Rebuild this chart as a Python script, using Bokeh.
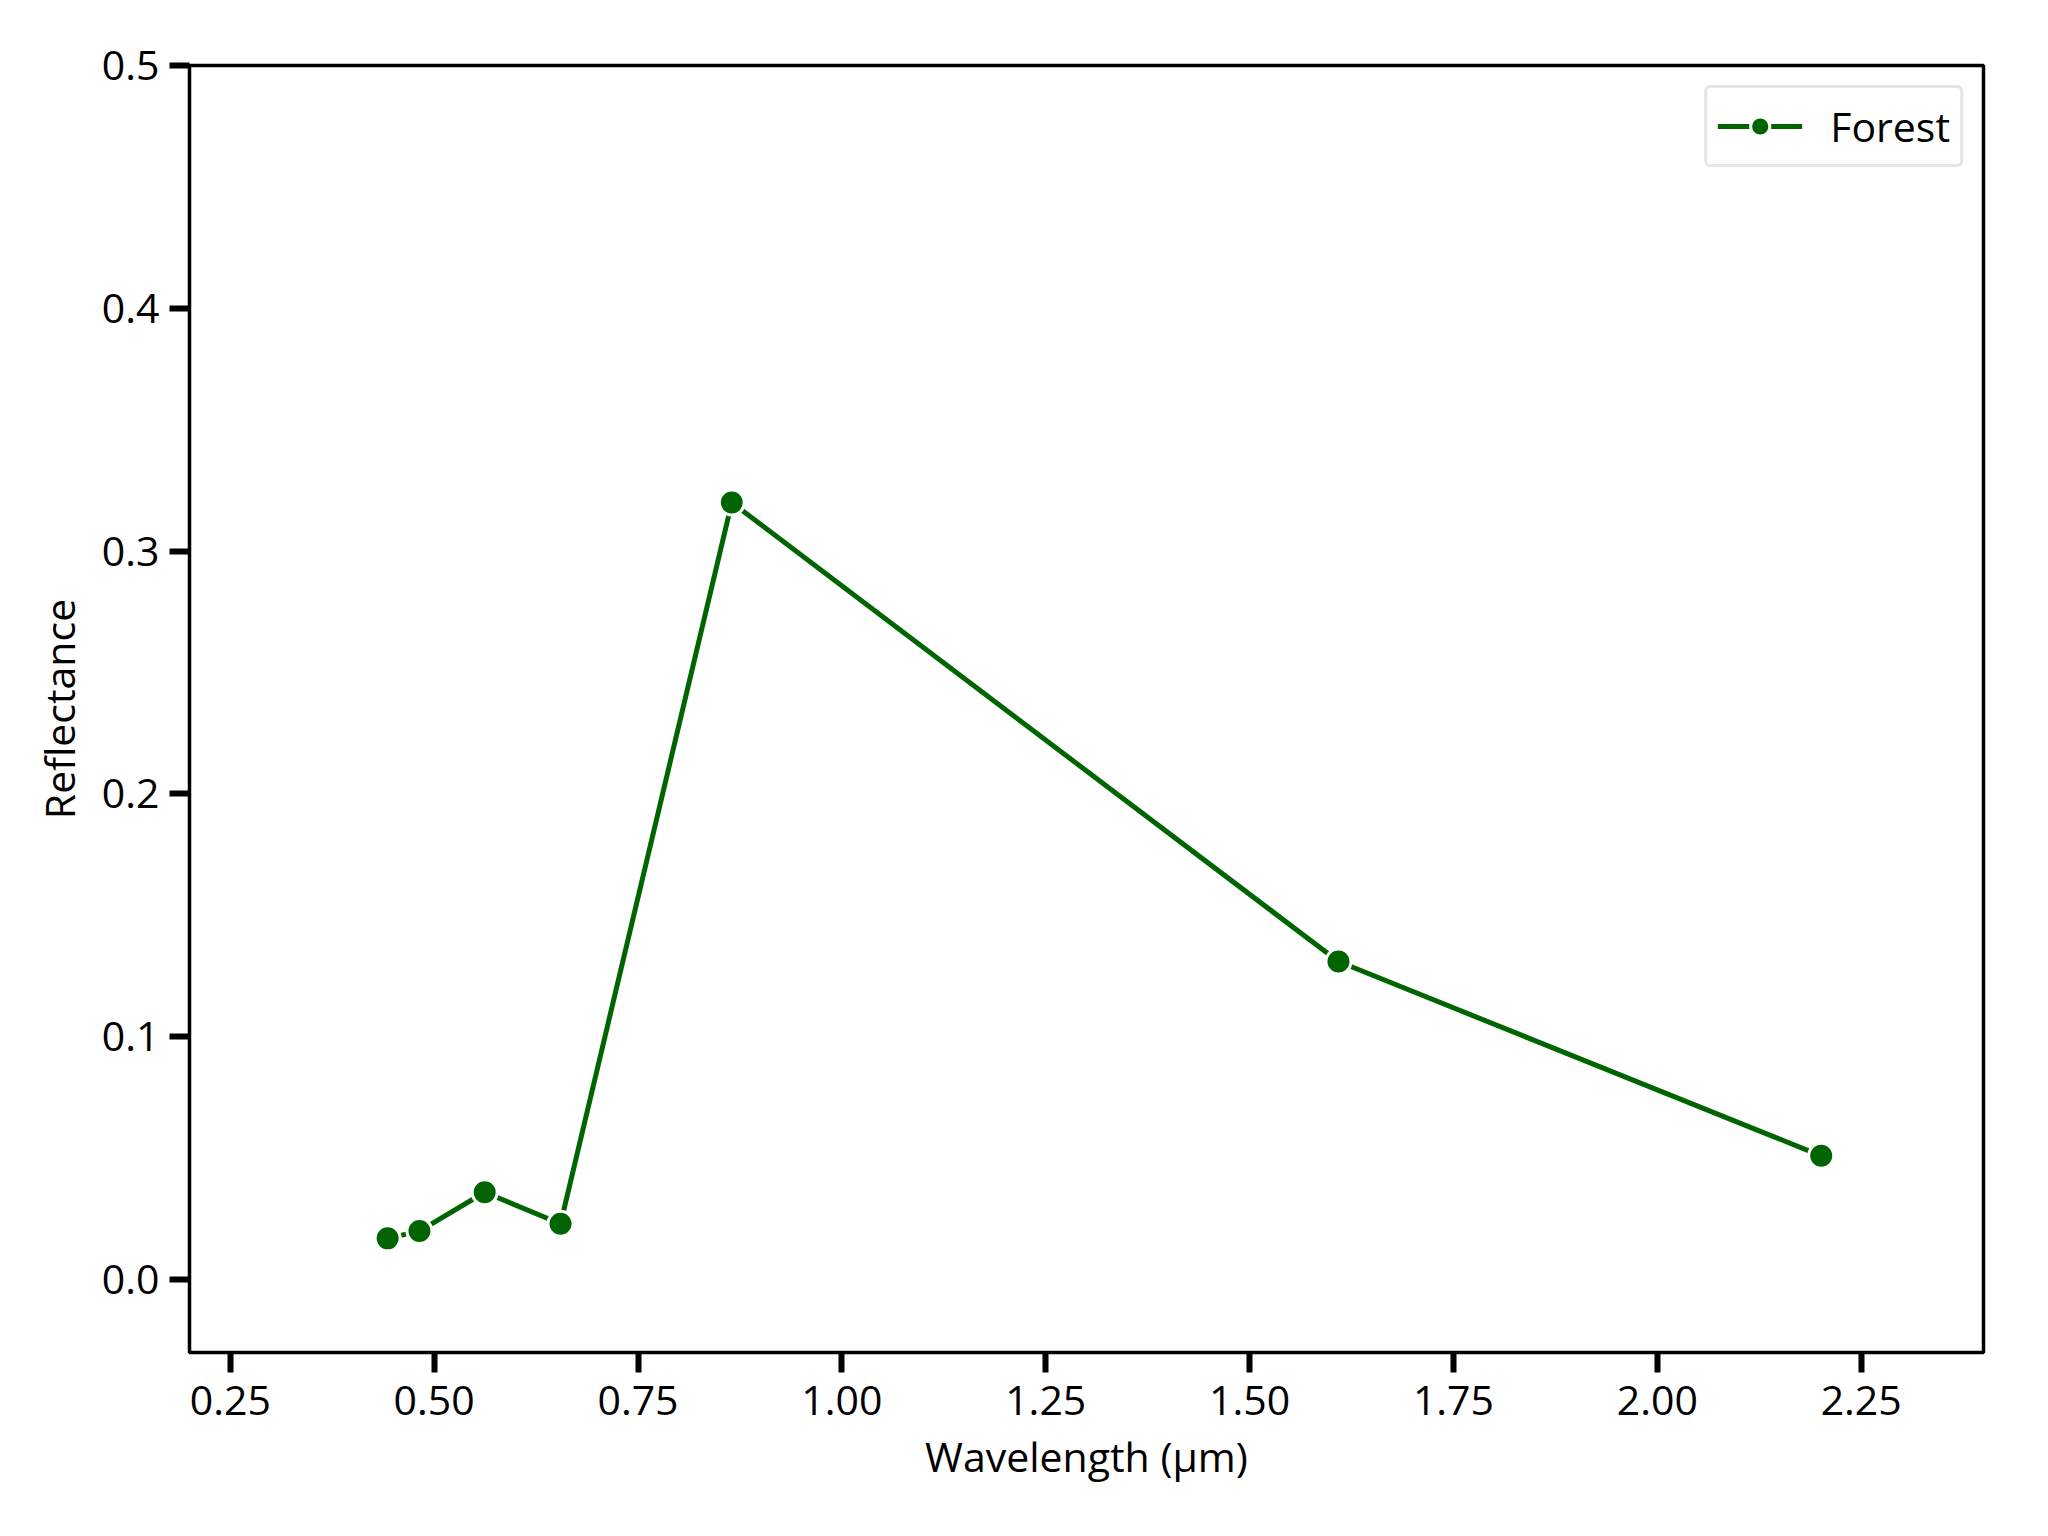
from bokeh.plotting import figure
from bokeh.models import Range1d, FixedTicker, CustomJSTickFormatter, Legend, LegendItem, ColumnDataSource
from bokeh.embed import file_html
from bokeh.resources import INLINE

wavelength = [0.443, 0.482, 0.562, 0.655, 0.865, 1.609, 2.201]
reflectance = [0.017, 0.020, 0.036, 0.023, 0.320, 0.131, 0.051]
series_name = "Forest"
x_ticks = [0.25, 0.50, 0.75, 1.00, 1.25, 1.50, 1.75, 2.00, 2.25]
y_ticks = [0.0, 0.1, 0.2, 0.3, 0.4, 0.5]

FONT = "Open Sans"
GREEN = "#006400"

src = ColumnDataSource(dict(x=wavelength, y=reflectance))

p = figure(width=2032, height=1520, output_backend="svg", toolbar_location=None,
           x_range=Range1d(0.2, 2.4), y_range=Range1d(-0.03, 0.5),
           min_border_left=189, min_border_right=49, min_border_top=65, min_border_bottom=168)
p.background_fill_color = "white"
p.border_fill_color = "white"
p.outline_line_color = "black"
p.outline_line_width = 3.5
p.xgrid.visible = False
p.ygrid.visible = False

r_line = p.line("x", "y", source=src, line_color=GREEN, line_width=5)
r_pts = p.scatter("x", "y", source=src, size=25, fill_color=GREEN, line_color="white", line_width=3)

for ax in (p.xaxis[0], p.yaxis[0]):
    ax.axis_line_color = None
    ax.major_tick_line_color = "black"
    ax.major_tick_line_width = 6
    ax.major_tick_in = 0
    ax.major_tick_out = 20
    ax.minor_tick_line_color = None
    ax.major_label_text_font = FONT
    ax.major_label_text_font_size = "41px"
    ax.major_label_text_color = "black"
    ax.axis_label_text_font = FONT
    ax.axis_label_text_font_size = "41px"
    ax.axis_label_text_font_style = "normal"
    ax.axis_label_text_color = "black"

p.xaxis.ticker = FixedTicker(ticks=x_ticks)
p.yaxis.ticker = FixedTicker(ticks=y_ticks)
p.xaxis.formatter = CustomJSTickFormatter(code="return tick.toFixed(2);")
p.yaxis.formatter = CustomJSTickFormatter(code="return tick.toFixed(1);")
p.xaxis.major_label_standoff = 13
p.yaxis.major_label_standoff = 10
p.xaxis.axis_label = "Wavelength (μm)"
p.yaxis.axis_label = "Reflectance"
p.xaxis.axis_label_standoff = 10
p.yaxis.axis_label_standoff = 12

legend = Legend(items=[LegendItem(label=series_name, renderers=[r_line, r_pts])],
                location="top_right")
legend.label_text_font = FONT
legend.label_text_font_size = "41px"
legend.label_text_color = "black"
legend.border_line_color = "#cccccc"
legend.border_line_width = 3
legend.border_radius = 6
legend.background_fill_color = "white"
legend.glyph_width = 85
legend.glyph_height = 48
legend.label_standoff = 28
legend.label_height = 48
legend.padding = 10
legend.margin = 20
p.add_layout(legend)

open("out.html", "w").write(file_html(p, INLINE))
